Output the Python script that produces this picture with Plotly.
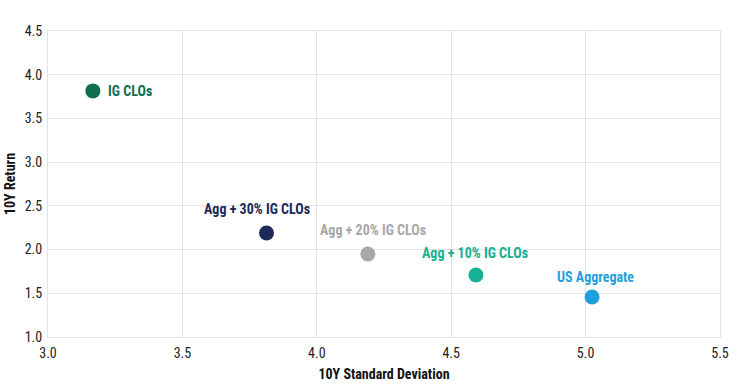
import plotly.graph_objects as go

names = ["IG CLOs", "Agg + 30% IG CLOs", "Agg + 20% IG CLOs", "Agg + 10% IG CLOs", "US Aggregate"]
std_dev = [3.167, 3.813, 4.19, 4.592, 5.024]
returns = [3.815, 2.19, 1.95, 1.709, 1.458]
colors = ["#0f6e4f", "#1b2a58", "#a7a7a7", "#16b092", "#1f9fdc"]

# label placement (pixel offsets from the marker), styling only
label_anchor = ["left", "center", "center", "center", "center"]
label_dx = [13, -10, 5, -1, 3]
label_dy = [0, 24, 24, 22, 20]

x_ticks = [3.0, 3.5, 4.0, 4.5, 5.0, 5.5]
y_ticks = [1.0, 1.5, 2.0, 2.5, 3.0, 3.5, 4.0, 4.5]

FONT = "Roboto Condensed, Liberation Sans Narrow, Roboto, sans-serif"

fig = go.Figure()
for n, x, y, c, a, dx, dy in zip(names, std_dev, returns, colors, label_anchor, label_dx, label_dy):
    fig.add_trace(go.Scatter(
        x=[x], y=[y], mode="markers", marker=dict(size=15, color=c),
        showlegend=False, cliponaxis=False, hoverinfo="skip",
    ))
    fig.add_annotation(
        x=x, y=y, text="<b>" + n + "</b>", showarrow=False,
        xanchor=a, yanchor="middle", xshift=dx, yshift=dy,
        font=dict(color=c, size=14, family=FONT),
    )

fig.update_layout(
    width=737, height=388,
    margin=dict(l=48, r=17, t=31, b=51),
    paper_bgcolor="white", plot_bgcolor="white",
    font=dict(family=FONT, size=14, color="#222"),
)
fig.update_xaxes(
    range=[3.0, 5.5], tickvals=x_ticks, ticktext=[f"{v:.1f}" for v in x_ticks],
    showgrid=True, gridcolor="#e3e3e3", zeroline=False,
    showline=True, linecolor="#e3e3e3", mirror=True,
    title=dict(text="<b>10Y Standard Deviation</b>", font=dict(size=14, color="#111"), standoff=9),
    tickfont=dict(size=14, color="#222"), ticks="", automargin=False, ticklabelstandoff=3,
)
fig.update_yaxes(
    range=[1.0, 4.5], tickvals=y_ticks, ticktext=[f"{v:.1f}" for v in y_ticks],
    showgrid=True, gridcolor="#e3e3e3", zeroline=False,
    showline=True, linecolor="#e3e3e3", mirror=True,
    title=dict(text="<b>10Y Return</b>", font=dict(size=14, color="#111"), standoff=5),
    tickfont=dict(size=14, color="#222"), ticks="", automargin=False, ticklabelstandoff=2,
)

fig.write_html("out.html", config={"displayModeBar": False},
               post_script="document.body.style.margin='0';")
